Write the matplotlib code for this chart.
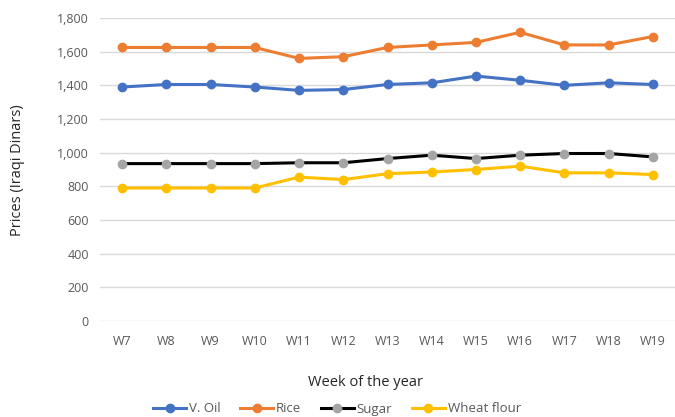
import matplotlib
matplotlib.use("Agg")
import matplotlib.pyplot as plt
from matplotlib.ticker import FuncFormatter

weeks = ["W7", "W8", "W9", "W10", "W11", "W12", "W13", "W14", "W15", "W16", "W17", "W18", "W19"]
v_oil = [1390, 1405, 1405, 1390, 1370, 1375, 1405, 1415, 1455, 1430, 1400, 1415, 1405]
rice = [1625, 1625, 1625, 1625, 1560, 1570, 1625, 1640, 1655, 1715, 1640, 1640, 1690]
sugar = [935, 935, 935, 935, 940, 940, 965, 985, 965, 985, 995, 995, 975]
wheat_flour = [790, 790, 790, 790, 855, 840, 875, 885, 900, 920, 880, 880, 870]

plt.rcParams['font.family'] = ['Open Sans', 'DejaVu Sans']

fig = plt.figure(figsize=(6.75, 4.17), dpi=100)
ax = fig.add_axes([100/675, 1-321/417, 575/675, 303/417])

x = list(range(len(weeks)))
series = [
    ("V. Oil", v_oil, "#4472C4", "#4472C4"),
    ("Rice", rice, "#ED7D31", "#ED7D31"),
    ("Sugar", sugar, "#000000", "#A5A5A5"),
    ("Wheat flour", wheat_flour, "#FFC000", "#FFC000"),
]
for name, vals, lc, mc in series:
    ax.plot(x, vals, color=lc, lw=2.2, marker='o', markersize=6,
            markerfacecolor=mc, markeredgecolor=mc, label=name, zorder=3)

ax.set_xlim(-0.5, len(weeks) - 0.5)
ax.set_ylim(0, 1800)
ax.set_yticks(range(0, 1801, 200))
ax.yaxis.set_major_formatter(FuncFormatter(lambda v, p: f"{int(v):,}"))
ax.set_xticks(x)
ax.set_xticklabels(weeks)
ax.grid(axis='y', color='#D9D9D9', lw=1)
ax.set_axisbelow(True)
for s in ax.spines.values():
    s.set_visible(False)
ax.tick_params(axis='both', length=0, labelsize=9, colors='#595959', pad=10)
ax.tick_params(axis='y', pad=8)

fig.text(18/675, 1-170/417, "Prices (Iraqi Dinars)", rotation=90, ha='center', va='center',
         fontsize=10.5, color='#262626')
fig.text(365/675, 1-383/417, "Week of the year", ha='center', va='center',
         fontsize=10.5, color='#262626')

handles, labels = ax.get_legend_handles_labels()
fig.legend(handles, labels, loc='center', bbox_to_anchor=(337/675, 1-409/417), ncol=4,
           frameon=False, fontsize=9.5, handlelength=2.5, columnspacing=1.5, handletextpad=0.2,
           labelcolor='#595959')

fig.savefig("out.png", dpi=100)
